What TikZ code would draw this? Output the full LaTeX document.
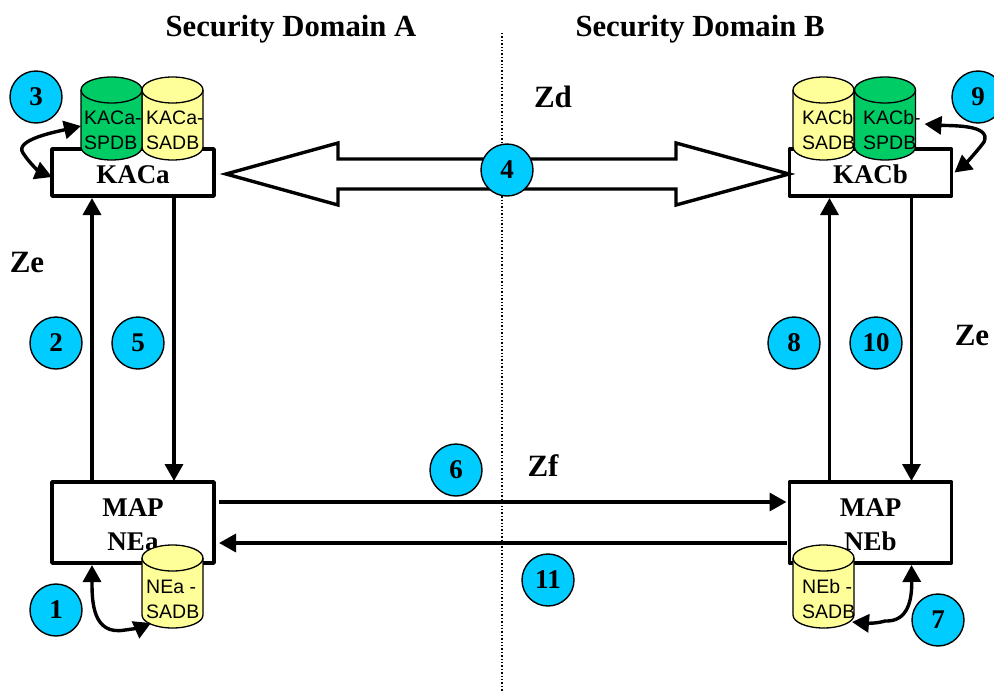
\documentclass[tikz,border=0pt]{standalone}
\usepackage{fontspec}
\setmainfont{Liberation Serif}
\newfontfamily\cylfont{Liberation Sans}
\usetikzlibrary{arrows.meta,calc}
\definecolor{badge}{HTML}{00CCFF}
\definecolor{dbgreen}{HTML}{00CC66}
\definecolor{dbyellow}{HTML}{FFFF99}
\newcommand{\lowr}{\rule{0pt}{22.5pt}}
\tikzset{
  boxnode/.style={draw,line width=3.4pt,fill=white,minimum width=162pt,inner sep=0pt,outer sep=0pt,font=\bfseries\fontsize{27}{34}\selectfont,align=center,line join=round},
  badgenode/.style={circle,draw,line width=1.4pt,fill=badge,minimum size=52pt,inner sep=0pt,font=\bfseries\fontsize{27}{27}\selectfont},
  titletext/.style={font=\bfseries\fontsize{30.7}{32}\selectfont,inner sep=0pt},
  ztext/.style={font=\bfseries\fontsize{31}{32}\selectfont,inner sep=0pt},
  cyltext/.style={font=\cylfont\fontsize{19.5}{25}\selectfont,align=left,inner sep=0pt,anchor=west},
  conn/.style={line width=3.4pt,-{Triangle[length=17pt,width=18pt]}},
  curved/.style={line width=3.4pt,{Triangle[length=17pt,width=18pt]}-{Triangle[length=17pt,width=18pt]}},
  cyl/.style={draw,line width=1.3pt},
  cylbox/.style={inner sep=0pt,outer sep=0pt,minimum width=61pt,minimum height=83pt},
}
% #1 name, #2 left x, #3 top y, #4 colour, #5 text left x, #6 text y, #7 text
\newcommand{\dbcyl}[7]{%
  \path[cyl,fill=#4] (#2,#3+13) -- (#2,#3+70) arc[start angle=180,end angle=0,x radius=30.5,y radius=13]
     -- (#2+61,#3+13) arc[start angle=0,end angle=-180,x radius=30.5,y radius=13] -- cycle;
  \path[cyl] (#2,#3+13) arc[start angle=180,end angle=0,x radius=30.5,y radius=13];
  \node[cylbox] (#1) at (#2+30.5,#3+41.5) {};
  \node[cyltext] (#1text) at (#5,#6) {#7};
}
\begin{document}
\begin{tikzpicture}[x=1pt,y=-1pt]
\useasboundingbox (0,0) rectangle (994,691);
\coordinate (divtop) at (502,33);
\coordinate (divbot) at (502,691);
\draw[line width=1.4pt,dotted] (divtop) -- (divbot);

\node[titletext] (titlea) at (291,29) {Security Domain A};
\node[titletext] (titleb) at (700,29) {Security Domain B};
\node[ztext] (zd) at (553,97) {Zd};
\node[ztext] (zea) at (27,262) {Ze};
\node[ztext] (zeb) at (972,335) {Ze};
\node[ztext] (zf) at (543,466) {Zf};

\node[boxnode,minimum height=47pt] (kaca) at (133,172.5) {\lowr KACa};
\node[boxnode,minimum height=47pt] (kacb) at (870.5,172.5) {\lowr KACb};
\node[boxnode,minimum height=81pt] (nea) at (133,522.5) {\lowr MAP\\NEa};
\node[boxnode,minimum height=81pt] (neb) at (870.5,522.5) {\lowr MAP\\NEb};

\dbcyl{sadba}{142}{77}{dbyellow}{146}{130}{KACa-\\SADB}
\dbcyl{spdba}{81}{77}{dbgreen}{84}{130}{KACa-\\SPDB}
\dbcyl{sadbb}{793}{77}{dbyellow}{802}{130}{KACb\\SADB}
\dbcyl{spdbb}{854.5}{77}{dbgreen}{863}{130}{KACb-\\SPDB}
\dbcyl{sadbnea}{142}{545}{dbyellow}{146}{599}{NEa -\\SADB}
\dbcyl{sadbneb}{793}{545}{dbyellow}{802}{599}{NEb -\\SADB}

% vertical connectors
\draw[conn] ([xshift=-41]nea.north) -- ([xshift=-41,yshift=-2]kaca.south);
\draw[conn] ([xshift=41]kaca.south) -- ([xshift=41,yshift=1]nea.north);
\draw[conn] ([xshift=-41]neb.north) -- ([xshift=-41,yshift=-2]kacb.south);
\draw[conn] ([xshift=41]kacb.south) -- ([xshift=41,yshift=1]neb.north);
% horizontal connectors
\draw[conn] ([xshift=5,yshift=20.5]nea.east) -- ([xshift=-3,yshift=20.5]neb.west);
\draw[conn] ([xshift=-3,yshift=-20.5]neb.west) -- ([xshift=5,yshift=-20.5]nea.east);
% hollow double arrow
\draw[line width=3.4pt,fill=white,line join=miter,miter limit=10]
  ([xshift=12,yshift=-1.5]kaca.east) -- ++(112,-31) -- ++(0,16) -- ++(338,0) -- ++(0,-16) -- ++(113,31)
  -- ++(-113,31) -- ++(0,-16) -- ++(-338,0) -- ++(0,16) -- cycle;

% curved double-headed connectors
\draw[curved] ([yshift=-7.5]spdba.west) .. controls (55,132) and (14,140) .. (23,153) .. controls (30,164) and (40,172) .. ([yshift=-4.5]kaca.west);
\draw[curved] ([xshift=9,yshift=-5.5]spdbb.east) .. controls (950,126) and (992,124) .. (984,142) .. controls (975,154) and (964,165) .. ([xshift=3]kacb.east);
\draw[curved] ([xshift=-41,yshift=-2]nea.south) .. controls (92,600) and (92,636) .. (125,630) .. controls (134,629) and (142,627) .. (151,623);
\draw[curved] ([xshift=41,yshift=-2]neb.south) .. controls (912,600) and (908,622) .. (885,621) .. controls (875,624) and (865,623) .. (852,622);

% badges
\node[badgenode] (b3) at (36,97) {3};
\node[badgenode] (b9) at (978,97) {9};
\node[badgenode] (b4) at (507,170) {4};
\node[badgenode] (b2) at (56,343) {2};
\node[badgenode] (b5) at (138,343) {5};
\node[badgenode] (b8) at (794,343) {8};
\node[badgenode] (b10) at (876,343) {10};
\node[badgenode] (b6) at (456,470) {6};
\node[badgenode] (b11) at (548,580) {11};
\node[badgenode] (b1) at (56,610) {1};
\node[badgenode] (b7) at (938,620) {7};
\end{tikzpicture}
\end{document}
